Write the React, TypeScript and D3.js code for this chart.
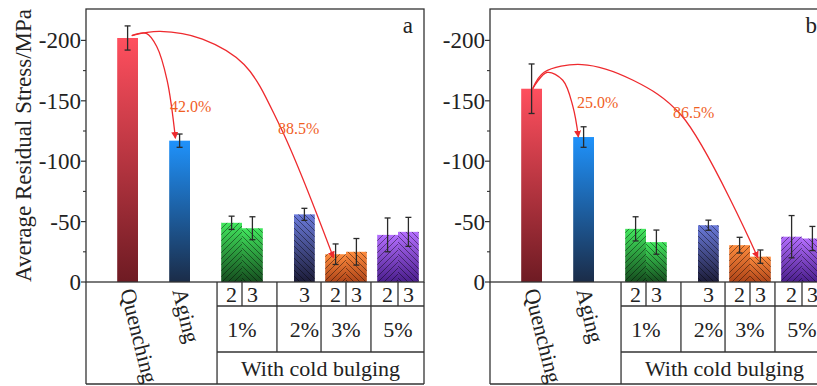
import React from 'react';
import * as d3 from 'd3';

// bars, left to right
const categories = ['Quenching', 'Aging', '1%-2', '1%-3', '2%-3', '3%-2', '3%-3', '5%-2', '5%-3'];
const slotPos = [2, 4.5, 7, 8, 10.5, 12, 13, 14.5, 15.5];
const colorKeys = ['quench', 'aging', 'g1', 'g1', 'g2', 'g3', 'g3', 'g5', 'g5'];
const subLabels = ['', '', '2', '3', '3', '2', '3', '2', '3'];

const stressA = [-202, -117, -49, -44.5, -56, -23, -25, -39, -41.5];
const errorA = [10, 5.5, 5.5, 9.5, 5, 8.5, 11, 14, 12];
const stressB = [-160, -120, -44, -33, -47, -30.5, -21, -37.5, -36];
const errorB = [20.5, 8.5, 10, 10, 4.2, 6.5, 5.5, 17.5, 10];

const groupLabels = ['1%', '2%', '3%', '5%'];
const groupCenters = [7.5, 10.5, 12.5, 15];
const groupEdges = [6.3, 9.18, 11.3, 13.7, 16.25];
const subDividers = [7.5, 12.5, 15];

const majorTicks = [0, -50, -100, -150, -200];
const minorTicks = [-25, -75, -125, -175];

// annotation arrows, in [slot, value]
const arrowsA = [
  [[2.2, -204], [2.9, -205.8], [3.4, -195], [3.9, -167], [4.3, -119]],
  [[2.2, -204], [3.56, -207.4], [5.6, -201], [7.6, -180], [9.3, -130], [11.9, -20]],
];
const arrowsB = [
  [[2.05, -160], [2.75, -173.5], [3.5, -167], [3.99, -145], [4.25, -120]],
  [[2.05, -160], [2.6, -173.6], [4.42, -180], [6.88, -167], [9.2, -138], [12.88, -20]],
];
const pctA = [{ text: '42.0%', pos: 4.04, value: -145 }, { text: '88.5%', pos: 9.23, value: -127 }];
const pctB = [{ text: '25.0%', pos: 4.18, value: -149 }, { text: '86.5%', pos: 8.8, value: -140.5 }];

const gradients = {
  quench: ['#ff4f5e', '#6e1b23'],
  aging: ['#1f92fb', '#1b2c48'],
  g1: ['#42e85e', '#154d1e'],
  g2: ['#6b7bdc', '#1c1c38'],
  g3: ['#ff8c3e', '#ae4418'],
  g5: ['#b46eff', '#4a1e8c'],
};

const FONT = "'Liberation Serif', 'Times New Roman', Tinos, 'Noto Serif', 'DejaVu Serif', Times, serif";
const frameTop = 9;
const frameBottom = 282;
const tableBottom = 384;
const panelWidth = 338;
const row1 = 306;
const row2 = 352;

function Panel({ left, values, errors, letter, showYLabel, arrows, pcts }) {
  const x = d3.scaleLinear().domain([0, 16.25]).range([left, left + panelWidth]);
  const y = d3.scaleLinear().domain([0, -226]).range([frameBottom, frameTop]);
  const bw = x(1) - x(0);
  const line = d3.line().x(d => x(d[0])).y(d => y(d[1])).curve(d3.curveCatmullRom.alpha(0.5));
  const stroke = '#333';

  return (
    <g>
      {values.map((v, i) => (
        <g key={categories[i]}>
          <rect x={x(slotPos[i] - 0.5)} y={y(v)} width={bw} height={y(0) - y(v)}
            fill={`url(#grad-${colorKeys[i]})`} />
          {i >= 2 && (
            <rect x={x(slotPos[i] - 0.5)} y={y(v)} width={bw} height={y(0) - y(v)}
              fill={subLabels[i] === '2' ? 'url(#hatchL)' : 'url(#hatchR)'} />
          )}
        </g>
      ))}
      {values.map((v, i) => (
        <g key={'e' + i} stroke="#2a2a2a" strokeWidth={1.3}>
          <line x1={x(slotPos[i])} x2={x(slotPos[i])} y1={y(v - errors[i])} y2={y(v + errors[i])} />
          <line x1={x(slotPos[i]) - 3} x2={x(slotPos[i]) + 3} y1={y(v - errors[i])} y2={y(v - errors[i])} />
          <line x1={x(slotPos[i]) - 3} x2={x(slotPos[i]) + 3} y1={y(v + errors[i])} y2={y(v + errors[i])} />
        </g>
      ))}

      {arrows.map((a, i) => (
        <path key={'a' + i} d={line(a)} fill="none" stroke="#ee2a2e" strokeWidth={1.3} markerEnd="url(#arrow)" />
      ))}
      {pcts.map(p => (
        <text key={p.text} x={x(p.pos)} y={y(p.value)} dy="0.35em" fontSize={16} fill="#f0601f" style={{ fontFamily: FONT }}>{p.text}</text>
      ))}

      {/* frame */}
      <rect x={x(0)} y={frameTop} width={panelWidth} height={frameBottom - frameTop} fill="none" stroke={stroke} strokeWidth={1.3} />
      {majorTicks.map(t => (
        <g key={t}>
          <line x1={x(0) - 5} x2={x(0)} y1={y(t)} y2={y(t)} stroke={stroke} strokeWidth={1.2} />
          <text x={x(0) - 5} y={y(t)} dy="0.35em" textAnchor="end" fontSize={23} style={{ fontFamily: FONT }} fill="#222">{String(t)}</text>
        </g>
      ))}
      {minorTicks.map(t => (
        <line key={t} x1={x(0) - 3} x2={x(0)} y1={y(t)} y2={y(t)} stroke={stroke} strokeWidth={1.1} />
      ))}
      <text x={x(16.25) - 11} y={33} textAnchor="end" fontSize={23} style={{ fontFamily: FONT }} fill="#222">{letter}</text>
      {showYLabel && (
        <text transform={`translate(${x(0) - 63},${(frameTop + frameBottom) / 2}) rotate(-90)`} textAnchor="middle"
          dy="0.35em" fontSize={23} style={{ fontFamily: FONT }} fill="#222">Average Residual Stress/MPa</text>
      )}

      {/* table */}
      <g stroke={stroke} strokeWidth={1.3}>
        <line x1={x(0)} x2={x(0)} y1={frameBottom} y2={tableBottom} />
        <line x1={x(16.25)} x2={x(16.25)} y1={frameBottom} y2={tableBottom} />
        <line x1={x(0)} x2={x(16.25)} y1={tableBottom} y2={tableBottom} />
        <line x1={x(groupEdges[0])} x2={x(groupEdges[0])} y1={frameBottom} y2={tableBottom} />
        <line x1={x(groupEdges[0])} x2={x(16.25)} y1={row1} y2={row1} />
        <line x1={x(groupEdges[0])} x2={x(16.25)} y1={row2} y2={row2} />
        {groupEdges.slice(1, -1).map(g => (
          <line key={g} x1={x(g)} x2={x(g)} y1={frameBottom} y2={row2} />
        ))}
        {subDividers.map(s => (
          <line key={s} x1={x(s)} x2={x(s)} y1={frameBottom} y2={row1} />
        ))}
      </g>
      <g fontSize={22} style={{ fontFamily: FONT }} fill="#222" textAnchor="middle">
        {subLabels.map((s, i) => s && (
          <text key={'s' + i} x={x(slotPos[i])} y={(frameBottom + row1) / 2} dy="0.35em">{s}</text>
        ))}
        {groupLabels.map((g, i) => (
          <text key={g} x={x(groupCenters[i])} y={(row1 + row2) / 2} dy="0.35em">{g}</text>
        ))}
        <text x={x((groupEdges[0] + 16.25) / 2)} y={(row2 + tableBottom) / 2} dy="0.35em">With cold bulging</text>
        {categories.slice(0, 2).map((c, i) => (
          <text key={c} transform={`translate(${x(slotPos[i])},${frameBottom + 7}) rotate(76)`} textAnchor="start" dy="0.35em">{c}</text>
        ))}
      </g>
    </g>
  );
}

export default function App() {
  return (
    <div style={{ position: 'absolute', left: 0, top: 0 }}>
      <svg width={817} height={386} style={{ display: 'block', background: '#fff' }}>
        <defs>
          {Object.entries(gradients).map(([k, [c0, c1]]) => (
            <linearGradient key={k} id={`grad-${k}`} x1="0" y1="0" x2="0" y2="1">
              <stop offset="0" stopColor={c0} />
              <stop offset="1" stopColor={c1} />
            </linearGradient>
          ))}
          <pattern id="hatchL" patternUnits="userSpaceOnUse" width={6} height={6}>
            <path d="M-1,7 L7,-1 M-4,4 L4,-4 M2,10 L10,2" stroke="rgba(0,0,0,0.55)" strokeWidth={0.8} />
          </pattern>
          <pattern id="hatchR" patternUnits="userSpaceOnUse" width={6} height={6}>
            <path d="M-1,-1 L7,7 M-4,2 L4,10 M2,-4 L10,4" stroke="rgba(0,0,0,0.55)" strokeWidth={0.8} />
          </pattern>
          <marker id="arrow" viewBox="0 0 10 10" refX={9} refY={5} markerWidth={7} markerHeight={7}
            markerUnits="userSpaceOnUse" orient="auto">
            <path d="M0,0 L10,5 L0,10 z" fill="#ee2a2e" />
          </marker>
        </defs>
        <Panel left={86} values={stressA} errors={errorA} letter="a" showYLabel arrows={arrowsA} pcts={pctA} />
        <Panel left={490} values={stressB} errors={errorB} letter="b" showYLabel={false} arrows={arrowsB} pcts={pctB} />
      </svg>
    </div>
  );
}
